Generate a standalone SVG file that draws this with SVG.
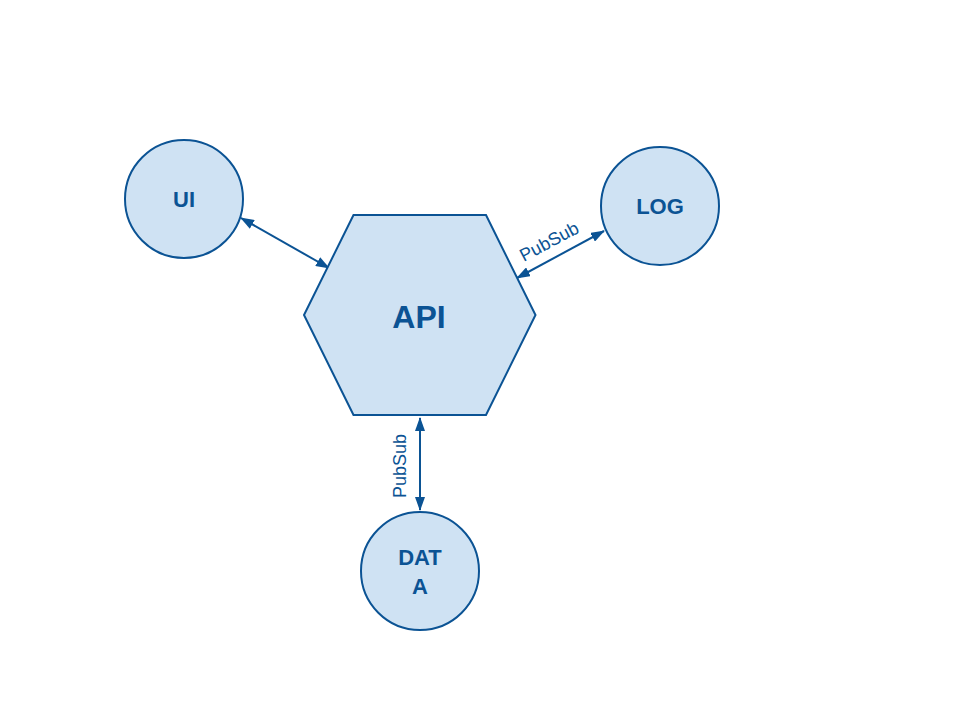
<svg xmlns="http://www.w3.org/2000/svg" width="960" height="720" viewBox="0 0 960 720">
<defs>
<marker id="ah" viewBox="0 0 14 10" refX="13" refY="5" markerWidth="14" markerHeight="10" markerUnits="userSpaceOnUse" orient="auto-start-reverse">
<path d="M0,0 L14,5 L0,10 z" fill="#0b5394"/>
</marker>
<style>
.shape{fill:#cfe2f3;stroke:#0b5394;stroke-width:2}
.lbl{font-family:"Liberation Sans",Arial,sans-serif;font-weight:bold;fill:#0b5394;text-anchor:middle}
.edge{stroke:#0b5394;stroke-width:2;fill:none;marker-start:url(#ah);marker-end:url(#ah)}
.el{font-family:"Liberation Sans",Arial,sans-serif;font-size:18px;fill:#0b5394;text-anchor:middle}
</style>
</defs>
<rect width="960" height="720" fill="#ffffff"/>
<g id="connectors">
<line class="edge" x1="241" y1="218" x2="329" y2="268"/>
<line class="edge" x1="604" y1="231" x2="517" y2="278"/>
<text class="el" transform="translate(552,247) rotate(-28)">PubSub</text>
<line class="edge" x1="420" y1="418" x2="420" y2="510"/>
<text class="el" transform="translate(406,466) rotate(-90)">PubSub</text>
</g>
<g id="api">
<polygon class="shape" points="353.5,215 486,215 535.5,315 486,415 353.5,415 304,315"/>
<text class="lbl" x="419" y="328" font-size="32">API</text>
</g>
<g id="ui">
<circle class="shape" cx="184" cy="199" r="59"/>
<text class="lbl" x="184" y="207" font-size="22">UI</text>
</g>
<g id="log">
<circle class="shape" cx="660" cy="206" r="59"/>
<text class="lbl" x="660" y="214" font-size="22">LOG</text>
</g>
<g id="data">
<circle class="shape" cx="420" cy="571" r="59"/>
<text class="lbl" x="420" y="565" font-size="22">DAT</text>
<text class="lbl" x="420" y="594" font-size="22">A</text>
</g>
</svg>
